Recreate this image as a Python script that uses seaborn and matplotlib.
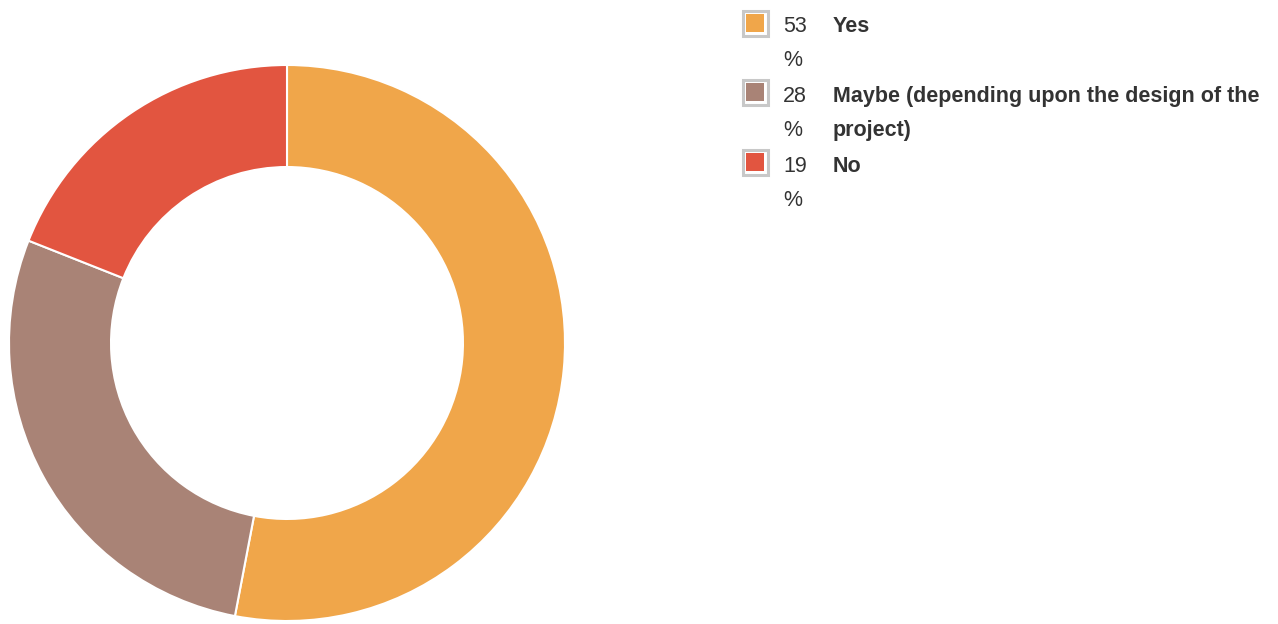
import matplotlib
matplotlib.use("Agg")
import matplotlib.pyplot as plt
from matplotlib.patches import Rectangle
import seaborn as sns

sns.set_style("white")
plt.rcParams["font.family"] = ["Liberation Sans", "DejaVu Sans"]

# Survey answers
categories = ["Yes", "Maybe (depending upon the design of the\nproject)", "No"]
percentages = [53, 28, 19]
colors = sns.color_palette(["#F0A64A", "#A98376", "#E25540"])

W, H = 1278, 624
fig = plt.figure(figsize=(W / 100, H / 100), dpi=100)

# Donut chart
ax = fig.add_axes([9 / W, 3 / H, 556 / W, 556 / H])
ax.pie(
    percentages,
    colors=colors,
    startangle=90,
    counterclock=False,
    radius=1.0,
    wedgeprops=dict(width=0.367, edgecolor="white", linewidth=1.5),
)
ax.set_aspect("equal")
ax.set_xlim(-1, 1)
ax.set_ylim(-1, 1)
ax.axis("off")

# Legend drawn on an overlay in pixel units
lg = fig.add_axes([0, 0, 1, 1])
lg.set_xlim(0, W)
lg.set_ylim(H, 0)
lg.axis("off")

text_color = "#333333"
fs = 15.5
line_step = 34
row_tops = [10, 79, 149]
first_baselines = [32, 102, 172]
for top, base, pct, label, col in zip(row_tops, first_baselines,
                                      percentages, categories, colors):
    lg.add_patch(Rectangle((742.5, top + 0.5), 25, 25, facecolor="white",
                           edgecolor="#C8C8C8", linewidth=2.2))
    lg.add_patch(Rectangle((746, top + 4), 18, 18, facecolor=col, edgecolor="none"))
    for i, part in enumerate([str(pct), "%"]):
        lg.text(783, base + i * line_step, part, fontsize=fs, color=text_color,
                va="baseline", ha="left")
    for i, part in enumerate(label.split("\n")):
        lg.text(833, base + i * line_step, part, fontsize=fs, color=text_color,
                fontweight="bold", va="baseline", ha="left")

fig.savefig("out.png", dpi=100)
